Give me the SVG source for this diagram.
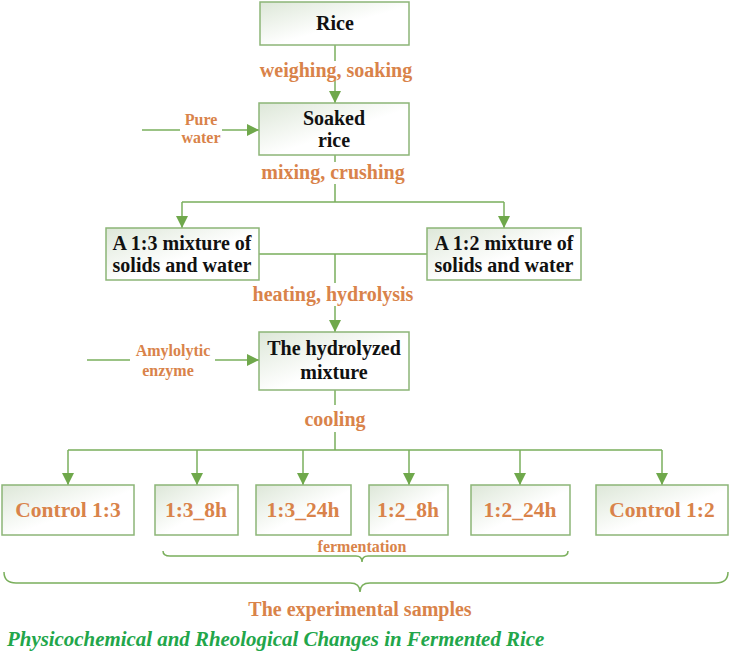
<svg xmlns="http://www.w3.org/2000/svg" width="730" height="671" viewBox="0 0 730 671">
<defs>
<linearGradient id="bg" x1="0" y1="0" x2="1" y2="1">
<stop offset="0" stop-color="#dde7d8"/>
<stop offset="0.55" stop-color="#ffffff"/>
<stop offset="1" stop-color="#ffffff"/>
</linearGradient>
<marker id="ah" markerWidth="12" markerHeight="12" viewBox="0 0 12 12" refX="12" refY="6" orient="auto" markerUnits="userSpaceOnUse">
<path d="M0,0 L12,6 L0,12 Z" fill="#6fa84b"/>
</marker>
<style>
.box{fill:url(#bg);stroke:#8cb577;stroke-width:1.5}
.ln{fill:none;stroke:#7aaf5c;stroke-width:1.5}
.nt{font-size:20px;fill:#111;text-anchor:middle}
.ot{font-size:21.5px;fill:#d9834a;text-anchor:middle}
.lb{font-size:20px;fill:#d9834a;text-anchor:middle}
.sm{font-size:16px;fill:#d9834a;text-anchor:middle}
.ti{font-style:italic;font-size:20.9px;fill:#22a64a}
</style>
</defs>
<g id="connectors">
<path class="ln" d="M335,45 V61"/>
<path class="ln" d="M335,80 V103" marker-end="url(#ah)"/>
<path class="ln" d="M142,130 H180"/>
<path class="ln" d="M222,130 H259" marker-end="url(#ah)"/>
<path class="ln" d="M335,155 V162"/>
<path class="ln" d="M335,184 V202 M182,202 H504"/>
<path class="ln" d="M182,202 V228" marker-end="url(#ah)"/>
<path class="ln" d="M504,202 V228" marker-end="url(#ah)"/>
<path class="ln" d="M259,254 H427 M335,254 V283"/>
<path class="ln" d="M335,306 V332" marker-end="url(#ah)"/>
<path class="ln" d="M87,360 H130"/>
<path class="ln" d="M215,360 H259" marker-end="url(#ah)"/>
<path class="ln" d="M335,390 V405"/>
<path class="ln" d="M335,432 V450 M68,450 H662"/>
<path class="ln" d="M68,450 V485" marker-end="url(#ah)"/>
<path class="ln" d="M197,450 V485" marker-end="url(#ah)"/>
<path class="ln" d="M303,450 V485" marker-end="url(#ah)"/>
<path class="ln" d="M409,450 V485" marker-end="url(#ah)"/>
<path class="ln" d="M520,450 V485" marker-end="url(#ah)"/>
<path class="ln" d="M662,450 V485" marker-end="url(#ah)"/>
<path class="ln" stroke-width="1.2" d="M163,551 Q163,556 170,556 H356 Q362,556 362,562 Q362,556 368,556 H562 Q568,556 568,551"/>
<path class="ln" stroke-width="1.2" d="M4,572 Q4,583 16,583 H350 Q360,583 360,592 Q360,583 370,583 H716 Q728,583 728,572"/>
</g>
<g id="labels">
<text font-family="Liberation Serif" font-weight="bold" class="lb" x="336" y="77">weighing, soaking</text>
<text font-family="Liberation Serif" font-weight="bold" class="sm" x="201" y="125">Pure</text>
<text font-family="Liberation Serif" font-weight="bold" class="sm" x="201" y="143">water</text>
<text font-family="Liberation Serif" font-weight="bold" class="lb" x="333" y="179">mixing, crushing</text>
<text font-family="Liberation Serif" font-weight="bold" class="lb" x="333" y="301">heating, hydrolysis</text>
<text font-family="Liberation Serif" font-weight="bold" class="sm" x="173" y="356">Amylolytic</text>
<text font-family="Liberation Serif" font-weight="bold" class="sm" x="168" y="376">enzyme</text>
<text font-family="Liberation Serif" font-weight="bold" class="lb" x="335" y="426">cooling</text>
<text font-family="Liberation Serif" font-weight="bold" class="sm" x="362" y="552">fermentation</text>
<text font-family="Liberation Serif" font-weight="bold" class="lb" x="360" y="616">The experimental samples</text>
<text font-family="Liberation Serif" font-weight="bold" class="ti" x="7" y="646">Physicochemical and Rheological Changes in Fermented Rice</text>
</g>
<g id="rice"><rect class="box" x="260" y="2" width="149" height="43"/><text font-family="Liberation Serif" font-weight="bold" class="nt" x="335" y="30">Rice</text></g>
<g id="soaked"><rect class="box" x="259" y="103" width="150" height="52"/><text font-family="Liberation Serif" font-weight="bold" class="nt" x="334" y="125">Soaked</text><text font-family="Liberation Serif" font-weight="bold" class="nt" x="334" y="147">rice</text></g>
<g id="mix13"><rect class="box" x="106" y="228" width="153" height="52"/><text font-family="Liberation Serif" font-weight="bold" class="nt" x="182" y="250">A 1:3 mixture of</text><text font-family="Liberation Serif" font-weight="bold" class="nt" x="182" y="272">solids and water</text></g>
<g id="mix12"><rect class="box" x="427" y="228" width="154" height="52"/><text font-family="Liberation Serif" font-weight="bold" class="nt" x="504" y="250">A 1:2 mixture of</text><text font-family="Liberation Serif" font-weight="bold" class="nt" x="504" y="272">solids and water</text></g>
<g id="hydro"><rect class="box" x="259" y="332" width="150" height="58"/><text font-family="Liberation Serif" font-weight="bold" class="nt" x="334" y="355">The hydrolyzed</text><text font-family="Liberation Serif" font-weight="bold" class="nt" x="334" y="379">mixture</text></g>
<g id="c13"><rect class="box" x="2" y="485" width="132" height="50"/><text font-family="Liberation Serif" font-weight="bold" class="ot" x="68" y="517">Control 1:3</text></g>
<g id="s138"><rect class="box" x="155" y="485" width="83" height="50"/><text font-family="Liberation Serif" font-weight="bold" class="ot" x="196" y="517">1:3_8h</text></g>
<g id="s1324"><rect class="box" x="256" y="485" width="95" height="50"/><text font-family="Liberation Serif" font-weight="bold" class="ot" x="303" y="517">1:3_24h</text></g>
<g id="s128"><rect class="box" x="369" y="485" width="79" height="50"/><text font-family="Liberation Serif" font-weight="bold" class="ot" x="408" y="517">1:2_8h</text></g>
<g id="s1224"><rect class="box" x="471" y="485" width="99" height="50"/><text font-family="Liberation Serif" font-weight="bold" class="ot" x="520" y="517">1:2_24h</text></g>
<g id="c12"><rect class="box" x="596" y="485" width="132" height="50"/><text font-family="Liberation Serif" font-weight="bold" class="ot" x="662" y="517">Control 1:2</text></g>
</svg>
